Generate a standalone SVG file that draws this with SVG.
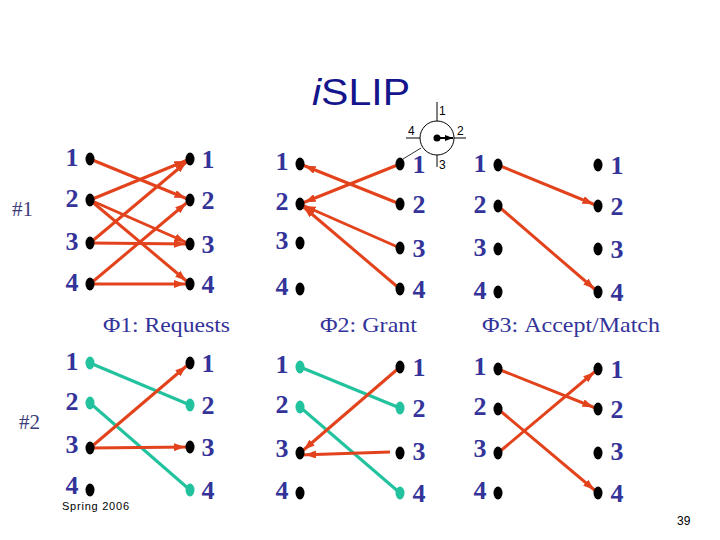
<svg xmlns="http://www.w3.org/2000/svg" width="720" height="540" viewBox="0 0 720 540">
<style>
.dot{fill:#000}
.gdot{fill:#22c29e}
.lb{font-family:"Liberation Serif","Times New Roman",serif;font-weight:bold;font-size:26px;fill:#333399;text-anchor:middle}
.ph{font-family:"Liberation Serif","Times New Roman",serif;font-size:22px;fill:#333399}
.num{font-family:"Liberation Serif","Times New Roman",serif;font-size:21px;fill:#3d3d7a}
.red{stroke:#e2431c;stroke-width:3;fill:none;marker-end:url(#ah)}
.grn{stroke:#22c29e;stroke-width:3;fill:none}
.sm{font-family:"Liberation Sans",Arial,sans-serif;font-size:12px;fill:#000}
</style>
<defs>
<marker id="ah" markerUnits="userSpaceOnUse" viewBox="0 0 11 8" markerWidth="11" markerHeight="8" refX="16" refY="4" orient="auto">
<path d="M0,0 L11,4 L0,8 z" fill="#e2431c"/>
</marker>
<marker id="ah2" markerUnits="userSpaceOnUse" viewBox="0 0 8 6" markerWidth="8" markerHeight="6" refX="8" refY="3" orient="auto">
<path d="M0,0 L8,3 L0,6 z" fill="#000"/>
</marker>
</defs>
<rect width="720" height="540" fill="#fff"/>

<g id="title">
<text x="312" y="105" font-family="'Liberation Sans',Arial,sans-serif" font-size="37" fill="#14148c" textLength="98" lengthAdjust="spacingAndGlyphs"><tspan font-style="italic">i</tspan>SLIP</text>
</g>

<g id="rotary" stroke="#000" fill="none">
<circle cx="437" cy="138" r="17" stroke-width="1" fill="#fff"/>
<line x1="437" y1="102" x2="437" y2="121" stroke-width="1"/>
<line x1="437" y1="155" x2="437" y2="167" stroke-width="1"/>
<line x1="406" y1="138" x2="420" y2="138" stroke-width="1"/>
<line x1="454" y1="138" x2="466" y2="138" stroke-width="1"/>
<line x1="437" y1="138" x2="453" y2="138" stroke-width="2" marker-end="url(#ah2)"/>
<circle cx="437" cy="138" r="3.5" fill="#000" stroke="none"/>
<line x1="421" y1="148" x2="403" y2="159" stroke-width="0.8"/>
<text class="sm" x="439" y="115" stroke="none">1</text>
<text class="sm" x="457" y="135" stroke="none">2</text>
<text class="sm" x="439" y="169" stroke="none">3</text>
<text class="sm" x="408" y="135" stroke="none">4</text>
</g>

<g id="labels">
<text class="num" x="12" y="216">#1</text>
<text class="num" x="19" y="429">#2</text>
<text class="ph" x="103" y="332" textLength="127" lengthAdjust="spacingAndGlyphs">Φ1: Requests</text>
<text class="ph" x="320" y="332" textLength="97" lengthAdjust="spacingAndGlyphs">Φ2: Grant</text>
<text class="ph" x="482" y="332" textLength="178" lengthAdjust="spacingAndGlyphs">Φ3: Accept/Match</text>
<text x="62" y="510" font-family="'Liberation Sans',Arial,sans-serif" font-size="11" fill="#000" textLength="67">Spring 2006</text>
<text class="sm" x="677" y="525">39</text>
</g>

<g id="connectors">
<line class="red" x1="90" y1="159" x2="190" y2="200"/>
<line class="red" x1="90" y1="200" x2="190" y2="159"/>
<line class="red" x1="90" y1="200" x2="190" y2="244"/>
<line class="red" x1="90" y1="200" x2="190" y2="284"/>
<line class="red" x1="90" y1="243" x2="190" y2="159"/>
<line class="red" x1="90" y1="243" x2="190" y2="244"/>
<line class="red" x1="90" y1="284" x2="190" y2="200"/>
<line class="red" x1="90" y1="284" x2="190" y2="284"/>
<line class="red" x1="400" y1="164" x2="300" y2="204"/>
<line class="red" x1="400" y1="204" x2="300" y2="164"/>
<line class="red" x1="400" y1="248" x2="300" y2="204"/>
<line class="red" x1="400" y1="289" x2="300" y2="204"/>
<line class="red" x1="498" y1="165" x2="598" y2="206"/>
<line class="red" x1="498" y1="206" x2="598" y2="292"/>
<line class="grn" x1="90" y1="363" x2="190" y2="405"/>
<line class="grn" x1="90" y1="403" x2="190" y2="490"/>
<line class="red" x1="90" y1="448" x2="190" y2="363"/>
<line class="red" x1="90" y1="448" x2="190" y2="447"/>
<line class="grn" x1="300" y1="367" x2="400" y2="408"/>
<line class="grn" x1="300" y1="407" x2="400" y2="493"/>
<line class="red" x1="400" y1="367" x2="300" y2="453"/>
<line class="red" x1="390" y1="452" x2="300" y2="455"/>
<line class="red" x1="498" y1="369" x2="598" y2="409"/>
<line class="red" x1="498" y1="409" x2="598" y2="493"/>
<line class="red" x1="498" y1="453" x2="598" y2="369"/>
</g>

<g id="tA-in1"><ellipse class="dot" cx="90" cy="159" rx="4.5" ry="6.5"/><text class="lb" x="72" y="166">1</text></g>
<g id="tA-in2"><ellipse class="dot" cx="90" cy="200" rx="4.5" ry="6.5"/><text class="lb" x="72" y="207">2</text></g>
<g id="tA-in3"><ellipse class="dot" cx="90" cy="243" rx="4.5" ry="6.5"/><text class="lb" x="72" y="250">3</text></g>
<g id="tA-in4"><ellipse class="dot" cx="90" cy="284" rx="4.5" ry="6.5"/><text class="lb" x="72" y="291">4</text></g>
<g id="tA-out1"><ellipse class="dot" cx="190" cy="159" rx="4.5" ry="6.5"/><text class="lb" x="208" y="168">1</text></g>
<g id="tA-out2"><ellipse class="dot" cx="190" cy="200" rx="4.5" ry="6.5"/><text class="lb" x="208" y="209">2</text></g>
<g id="tA-out3"><ellipse class="dot" cx="190" cy="244" rx="4.5" ry="6.5"/><text class="lb" x="208" y="253">3</text></g>
<g id="tA-out4"><ellipse class="dot" cx="190" cy="284" rx="4.5" ry="6.5"/><text class="lb" x="208" y="293">4</text></g>
<g id="tB-in1"><ellipse class="dot" cx="300" cy="164" rx="4.5" ry="6.5"/><text class="lb" x="282" y="170">1</text></g>
<g id="tB-in2"><ellipse class="dot" cx="300" cy="204" rx="4.5" ry="6.5"/><text class="lb" x="282" y="210">2</text></g>
<g id="tB-in3"><ellipse class="dot" cx="300" cy="243" rx="4.5" ry="6.5"/><text class="lb" x="282" y="249">3</text></g>
<g id="tB-in4"><ellipse class="dot" cx="300" cy="289" rx="4.5" ry="6.5"/><text class="lb" x="282" y="295">4</text></g>
<g id="tB-out1"><ellipse class="dot" cx="400" cy="164" rx="4.5" ry="6.5"/><text class="lb" x="419" y="173">1</text></g>
<g id="tB-out2"><ellipse class="dot" cx="400" cy="204" rx="4.5" ry="6.5"/><text class="lb" x="419" y="213">2</text></g>
<g id="tB-out3"><ellipse class="dot" cx="400" cy="248" rx="4.5" ry="6.5"/><text class="lb" x="419" y="257">3</text></g>
<g id="tB-out4"><ellipse class="dot" cx="400" cy="289" rx="4.5" ry="6.5"/><text class="lb" x="419" y="298">4</text></g>
<g id="tC-in1"><ellipse class="dot" cx="498" cy="165" rx="4.5" ry="6.5"/><text class="lb" x="480" y="172">1</text></g>
<g id="tC-in2"><ellipse class="dot" cx="498" cy="206" rx="4.5" ry="6.5"/><text class="lb" x="480" y="213">2</text></g>
<g id="tC-in3"><ellipse class="dot" cx="498" cy="249" rx="4.5" ry="6.5"/><text class="lb" x="480" y="256">3</text></g>
<g id="tC-in4"><ellipse class="dot" cx="498" cy="292" rx="4.5" ry="6.5"/><text class="lb" x="480" y="299">4</text></g>
<g id="tC-out1"><ellipse class="dot" cx="598" cy="165" rx="4.5" ry="6.5"/><text class="lb" x="617" y="174">1</text></g>
<g id="tC-out2"><ellipse class="dot" cx="598" cy="206" rx="4.5" ry="6.5"/><text class="lb" x="617" y="215">2</text></g>
<g id="tC-out3"><ellipse class="dot" cx="598" cy="249" rx="4.5" ry="6.5"/><text class="lb" x="617" y="258">3</text></g>
<g id="tC-out4"><ellipse class="dot" cx="598" cy="292" rx="4.5" ry="6.5"/><text class="lb" x="617" y="301">4</text></g>
<g id="bA-in1"><ellipse class="gdot" cx="90" cy="363" rx="4.5" ry="6.5"/><text class="lb" x="72" y="370">1</text></g>
<g id="bA-in2"><ellipse class="gdot" cx="90" cy="403" rx="4.5" ry="6.5"/><text class="lb" x="72" y="410">2</text></g>
<g id="bA-in3"><ellipse class="dot" cx="90" cy="448" rx="4.5" ry="6.5"/><text class="lb" x="72" y="453">3</text></g>
<g id="bA-in4"><ellipse class="dot" cx="90" cy="490" rx="4.5" ry="6.5"/><text class="lb" x="72" y="494">4</text></g>
<g id="bA-out1"><ellipse class="dot" cx="190" cy="363" rx="4.5" ry="6.5"/><text class="lb" x="208" y="372">1</text></g>
<g id="bA-out2"><ellipse class="gdot" cx="190" cy="405" rx="4.5" ry="6.5"/><text class="lb" x="208" y="414">2</text></g>
<g id="bA-out3"><ellipse class="dot" cx="190" cy="447" rx="4.5" ry="6.5"/><text class="lb" x="208" y="456">3</text></g>
<g id="bA-out4"><ellipse class="gdot" cx="190" cy="490" rx="4.5" ry="6.5"/><text class="lb" x="208" y="499">4</text></g>
<g id="bB-in1"><ellipse class="gdot" cx="300" cy="367" rx="4.5" ry="6.5"/><text class="lb" x="282" y="373">1</text></g>
<g id="bB-in2"><ellipse class="gdot" cx="300" cy="407" rx="4.5" ry="6.5"/><text class="lb" x="282" y="413">2</text></g>
<g id="bB-in3"><ellipse class="dot" cx="300" cy="453" rx="4.5" ry="6.5"/><text class="lb" x="282" y="457">3</text></g>
<g id="bB-in4"><ellipse class="dot" cx="300" cy="493" rx="4.5" ry="6.5"/><text class="lb" x="282" y="499">4</text></g>
<g id="bB-out1"><ellipse class="dot" cx="400" cy="367" rx="4.5" ry="6.5"/><text class="lb" x="419" y="376">1</text></g>
<g id="bB-out2"><ellipse class="gdot" cx="400" cy="408" rx="4.5" ry="6.5"/><text class="lb" x="419" y="417">2</text></g>
<g id="bB-out3"><ellipse class="dot" cx="400" cy="453" rx="4.5" ry="6.5"/><text class="lb" x="419" y="460">3</text></g>
<g id="bB-out4"><ellipse class="gdot" cx="400" cy="493" rx="4.5" ry="6.5"/><text class="lb" x="419" y="502">4</text></g>
<g id="bC-in1"><ellipse class="dot" cx="498" cy="369" rx="4.5" ry="6.5"/><text class="lb" x="480" y="375">1</text></g>
<g id="bC-in2"><ellipse class="dot" cx="498" cy="409" rx="4.5" ry="6.5"/><text class="lb" x="480" y="415">2</text></g>
<g id="bC-in3"><ellipse class="dot" cx="498" cy="453" rx="4.5" ry="6.5"/><text class="lb" x="480" y="457">3</text></g>
<g id="bC-in4"><ellipse class="dot" cx="498" cy="493" rx="4.5" ry="6.5"/><text class="lb" x="480" y="499">4</text></g>
<g id="bC-out1"><ellipse class="dot" cx="598" cy="369" rx="4.5" ry="6.5"/><text class="lb" x="617" y="378">1</text></g>
<g id="bC-out2"><ellipse class="dot" cx="598" cy="409" rx="4.5" ry="6.5"/><text class="lb" x="617" y="418">2</text></g>
<g id="bC-out3"><ellipse class="dot" cx="598" cy="453" rx="4.5" ry="6.5"/><text class="lb" x="617" y="460">3</text></g>
<g id="bC-out4"><ellipse class="dot" cx="598" cy="493" rx="4.5" ry="6.5"/><text class="lb" x="617" y="502">4</text></g>
</svg>
